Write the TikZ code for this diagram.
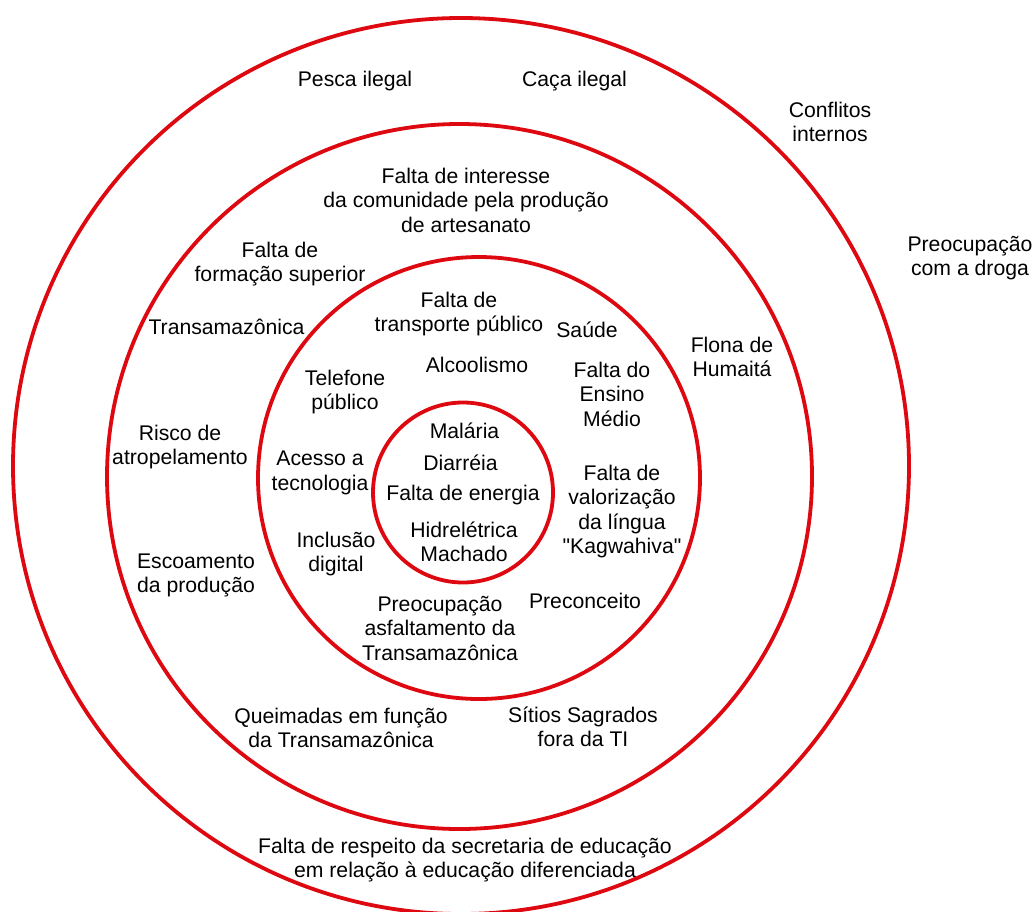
\documentclass[tikz,border=0pt]{standalone}
\usepackage{fontspec}
\setmainfont{Liberation Sans}[Ligatures=TeXOff]
\definecolor{ringred}{RGB}{222,8,16}
\begin{document}
\begin{tikzpicture}[x=1pt,y=-1pt,
  ring/.style={draw=ringred,line width=3.8pt},
  lbl/.style={font=\fontsize{21.2}{24.5}\selectfont,align=center,inner sep=0pt,anchor=north,yshift=17.15pt}]
\useasboundingbox[fill=white] (0,0) rectangle (1035,911);
% circles
\draw[ring] (461,466) circle[radius=448pt];
\draw[ring] (459.5,476.5) circle[radius=352.5pt];
\draw[ring] (479,478) circle[radius=221pt];
\draw[ring] (463,492.5) circle[radius=90pt];
% outer ring
\node[lbl] (pesca) at (355,86) {\strut Pesca ilegal};
\node[lbl] (caca) at (574.5,86) {\strut Caça ilegal};
\node[lbl] (conflitos) at (830,117) {\strut Conflitos\\internos};
\node[lbl] (droga) at (970,251) {\strut Preocupação\\com a droga};
\node[lbl] (respeito) at (465,853) {\strut Falta de respeito da secretaria de educação\\em relação à educação diferenciada};
% second ring
\node[lbl] (artesanato) at (466,183) {\strut Falta de interesse\\da comunidade pela produção\\de artesanato};
\node[lbl] (formacao) at (280,257) {\strut Falta de\\formação superior};
\node[lbl] (transamaz) at (226.5,334) {\strut Transamazônica};
\node[lbl] (flona) at (732,352) {\strut Flona de\\Humaitá};
\node[lbl] (risco) at (180,440) {\strut Risco de\\atropelamento};
\node[lbl] (escoamento) at (196,568) {\strut Escoamento\\da produção};
\node[lbl] (queimadas) at (341,723) {\strut Queimadas em função\\da Transamazônica};
\node[lbl] (sitios) at (583,722) {\strut Sítios Sagrados\\fora da TI};
% third ring
\node[lbl] (transporte) at (459,307) {\strut Falta de\\transporte público};
\node[lbl] (saude) at (587,337) {\strut Saúde};
\node[lbl] (alcoolismo) at (477,372) {\strut Alcoolismo};
\node[lbl] (telefone) at (345,385) {\strut Telefone\\público};
\node[lbl] (ensino) at (612,377) {\strut Falta do\\Ensino\\Médio};
\node[lbl] (acesso) at (320,465.5) {\strut Acesso a\\tecnologia};
\node[lbl] (valorizacao) at (622,480) {\strut Falta de\\valorização\\da língua\\"Kagwahiva"};
\node[lbl] (inclusao) at (336,547) {\strut Inclusão\\digital};
\node[lbl] (preconceito) at (585,608) {\strut Preconceito};
\node[lbl] (asfaltamento) at (440,611) {\strut Preocupação\\asfaltamento da\\Transamazônica};
% inner circle
\node[lbl] (malaria) at (464.5,438) {\strut Malária};
\node[lbl] (diarreia) at (460.5,470) {\strut Diarréia};
\node[lbl] (energia) at (463,500) {\strut Falta de energia};
\node[lbl] (hidreletrica) at (464,537) {\strut Hidrelétrica\\Machado};
\end{tikzpicture}
\end{document}
